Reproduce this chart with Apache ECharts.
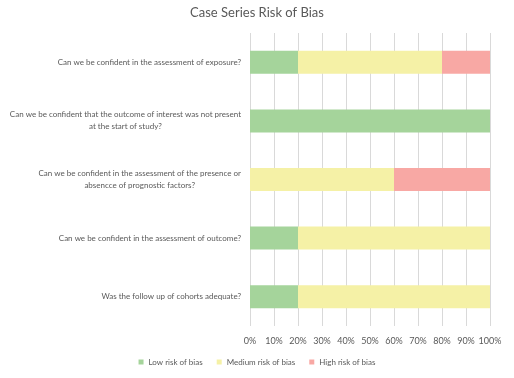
<!DOCTYPE html>
<html>
<head>
<meta charset="utf-8">
<script src="https://cdn.jsdelivr.net/npm/echarts@6/dist/echarts.min.js"></script>
<style>html,body{margin:0;padding:0;background:#fff}#c{width:514px;height:378px}</style>
</head>
<body>
<div id="c"></div>
<script>
var title = 'Case Series Risk of Bias';
var categories = [
  'Can we be confident in the assessment of exposure?',
  'Can we be confident that the outcome of interest was not present\nat the start of study?',
  'Can we be confident in the assessment of the presence or\nabsencce of prognostic factors?',
  'Can we be confident in the assessment of outcome?',
  'Was the follow up of cohorts adequate?'
];
var seriesNames = ['Low risk of bias', 'Medium risk of bias', 'High risk of bias'];
var lowRisk = [20, 100, 0, 20, 20];
var mediumRisk = [60, 0, 60, 80, 80];
var highRisk = [20, 0, 40, 0, 0];
var xTicks = [0, 10, 20, 30, 40, 50, 60, 70, 80, 90, 100];

var colors = ['#a5d49b', '#f5f1a6', '#f8a8a4'];
var font = 'Lato, "Open Sans", sans-serif';
var chart = echarts.init(document.getElementById('c'));
var values = [lowRisk, mediumRisk, highRisk];
chart.setOption({
  animation: false,
  title: {
    text: title, left: 'center', top: 1,
    textStyle: {fontFamily: font, fontSize: 13, fontWeight: 'normal', color: '#595959'}
  },
  legend: {
    bottom: 7, left: 'center', itemWidth: 5, itemHeight: 5, itemGap: 14,
    icon: 'rect',
    textStyle: {fontFamily: font, fontSize: 8, color: '#595959'},
    data: seriesNames
  },
  grid: {left: 250, right: 24, top: 33, bottom: 52, containLabel: false, outerBoundsMode: 'none'},
  xAxis: {
    type: 'value', min: xTicks[0], max: xTicks[xTicks.length - 1], interval: 10,
    axisLine: {show: false}, axisTick: {show: false},
    splitLine: {show: true, lineStyle: {color: '#d9d9d9', width: 1}},
    axisLabel: {fontFamily: font, fontSize: 9, color: '#595959', margin: 11, formatter: '{value}%'}
  },
  yAxis: {
    type: 'category', data: categories, inverse: true,
    axisLine: {show: false}, axisTick: {show: false},
    axisLabel: {
      margin: 9, color: '#595959', fontFamily: font, fontSize: 8, lineHeight: 12,
      formatter: function (v) { return v.split('\n').map(function (l) { return '{c|' + l + '}'; }).join('\n'); },
      rich: {c: {align: 'center', fontFamily: font, fontSize: 8, color: '#595959', lineHeight: 12}}
    }
  },
  series: values.map(function (d, i) {
    return {
      name: seriesNames[i], type: 'bar', stack: 'total', data: d, barWidth: 23,
      itemStyle: {color: colors[i]}
    };
  })
});
</script>
</body>
</html>
